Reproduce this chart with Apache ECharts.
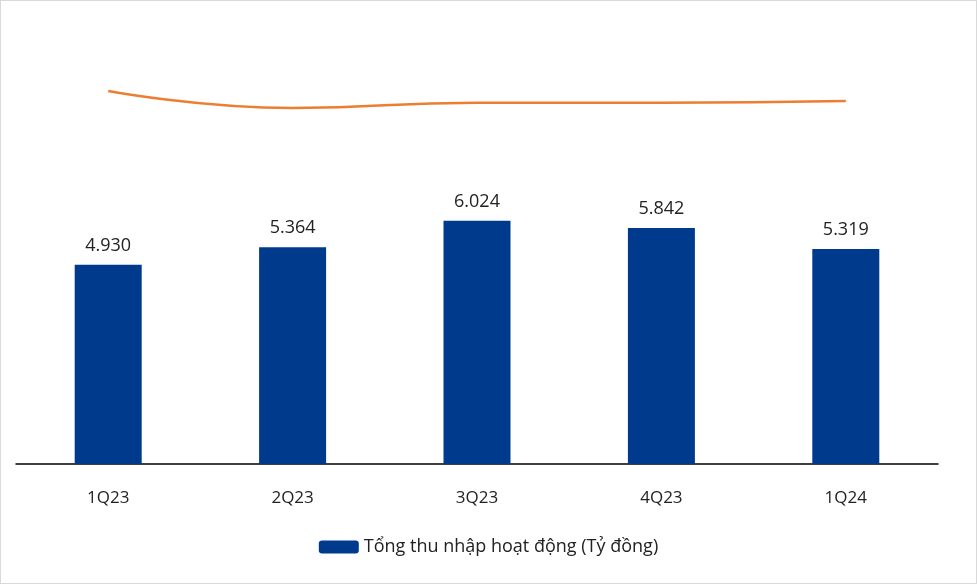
<!DOCTYPE html>
<html>
<head>
<meta charset="utf-8">
<script src="https://cdn.jsdelivr.net/npm/echarts@6/dist/echarts.min.js"></script>
<style>
  html, body { margin: 0; padding: 0; background: #fff; }
  #main { width: 977px; height: 584px; box-sizing: border-box; border: 1px solid #d9d9d9; }
</style>
</head>
<body>
<div id="main"></div>
<script>
// quarters on the x axis
const quarters = ['1Q23', '2Q23', '3Q23', '4Q23', '1Q24'];
// total operating income, billion VND
const income = [4930, 5364, 6024, 5842, 5319];
// ratio line, percent
const ratio = [33, 29, 30.2, 30.2, 30.6];

const myChart = echarts.init(document.getElementById('main'));
const font = '"Open Sans", "Noto Sans", sans-serif';

const option = {
  animation: false,
  textStyle: { fontFamily: font },
  legend: {
    data: ['Tổng thu nhập hoạt động (Tỷ đồng)'],
    bottom: 22,
    left: 'center',
    itemWidth: 40,
    itemHeight: 13,
    itemGap: 6,
    textStyle: { fontSize: 18, color: '#222', fontFamily: font },
  },
  grid: { left: 15, right: 38, top: 59, bottom: 119, containLabel: false },
  xAxis: {
    type: 'category',
    data: quarters,
    axisLine: { lineStyle: { color: '#000', width: 1.5 } },
    axisTick: { show: false },
    axisLabel: { fontSize: 17, color: '#222', margin: 26, fontFamily: font },
  },
  yAxis: [
    { type: 'value', min: 0, max: 10000, show: false, splitLine: { show: false } },
    { type: 'value', min: -55, max: 40.3, show: false, splitLine: { show: false } },
  ],
  series: [
    {
      name: 'Tổng thu nhập hoạt động (Tỷ đồng)',
      type: 'bar',
      data: income,
      barWidth: 67,
      itemStyle: { color: '#003A8C' },
      label: {
        show: true,
        position: 'top',
        distance: 10,
        fontSize: 18,
        color: '#222',
        fontFamily: font,
        formatter: (p) => (p.value / 1000).toFixed(3),
      },
    },
    {
      name: 'ratio',
      type: 'line',
      yAxisIndex: 1,
      data: ratio,
      smooth: true,
      symbol: 'none',
      lineStyle: { color: '#ED7D31', width: 2.5 },
      label: {
        show: true,
        position: 'top',
        distance: 16,
        fontSize: 18,
        color: '#222',
        fontFamily: font,
        formatter: (p) => Math.round(p.value) + '%',
      },
    },
  ],
};

myChart.setOption(option);
</script>
</body>
</html>
